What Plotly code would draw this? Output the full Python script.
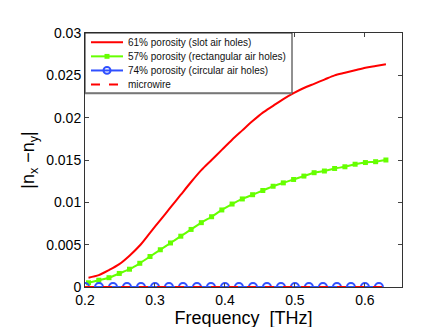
import plotly.graph_objects as go

freq = [0.205, 0.2197, 0.2343, 0.249, 0.2636, 0.2783, 0.2929, 0.3076, 0.3222, 0.3369,
        0.3516, 0.3662, 0.3809, 0.3955, 0.4102, 0.4248, 0.4395, 0.4541, 0.4688, 0.4834,
        0.4981, 0.5128, 0.5274, 0.5421, 0.5567, 0.5714, 0.586, 0.6007, 0.6153, 0.63]

slot_vals = [0.0011, 0.0014, 0.0020, 0.0027, 0.0037, 0.0049, 0.0064, 0.0079, 0.0094, 0.0109,
             0.0124, 0.0138, 0.0150, 0.0162, 0.0174, 0.0185, 0.0196, 0.0206, 0.0214, 0.0222,
             0.0229, 0.0235, 0.0240, 0.0245, 0.0250, 0.0253, 0.0256, 0.0259, 0.0261, 0.0263]

rect_vals = [0.0005, 0.0008, 0.0011, 0.0016, 0.0021, 0.0028, 0.0036, 0.0044, 0.0052, 0.0060,
             0.0068, 0.0076, 0.0083, 0.0091, 0.0098, 0.0104, 0.0109, 0.0114, 0.0119, 0.0123,
             0.0127, 0.0131, 0.0135, 0.0137, 0.0140, 0.0142, 0.0145, 0.0147, 0.0148, 0.0150]

circ_freq = [0.20, 0.22, 0.24, 0.26, 0.28, 0.30, 0.32, 0.34, 0.36, 0.38, 0.40,
             0.42, 0.44, 0.46, 0.48, 0.50, 0.52, 0.54, 0.56, 0.58, 0.60, 0.62]
circ_vals = [0.0] * len(circ_freq)

wire_freq = [0.20, 0.63]
wire_vals = [0.0, 0.0]

names = ["61% porosity (slot air holes)", "57% porosity (rectangular air holes)",
         "74% porosity (circular air holes)", "microwire"]

x_ticks = [0.2, 0.3, 0.4, 0.5, 0.6]
x_ticktext = ["0.2", "0.3", "0.4", "0.5", "0.6"]
y_ticks = [0, 0.005, 0.01, 0.015, 0.02, 0.025, 0.03]
y_ticktext = ["0", "0.005", "0.01", "0.015", "0.02", "0.025", "0.03"]

RED = "#ff0000"
GREEN = "#66ff00"
BLUE = "#3050ff"

W, H = 435, 327
ML, MR, MT, MB = 77, 41, 25, 41
PW, PH = W - ML - MR, H - MT - MB


def px(x):
    return (x - ML) / PW


def py(y):
    return 1 - (y - MT) / PH


fig = go.Figure()
fig.add_trace(go.Scatter(x=freq, y=slot_vals, mode="lines", name=names[0],
                         line=dict(color=RED, width=2, shape="spline", smoothing=0.8)))
fig.add_trace(go.Scatter(x=freq, y=rect_vals, mode="lines+markers", name=names[1],
                         line=dict(color=GREEN, width=2, shape="spline", smoothing=0.8),
                         marker=dict(symbol="square", size=5, color=GREEN)))
fig.add_trace(go.Scatter(x=circ_freq, y=circ_vals, mode="lines+markers", name=names[2],
                         line=dict(color=BLUE, width=2),
                         marker=dict(symbol="circle-open", size=8, color=BLUE,
                                     line=dict(width=2, color=BLUE))))
fig.add_trace(go.Scatter(x=wire_freq, y=wire_vals, mode="lines", name=names[3],
                         line=dict(color=RED, width=2, dash="dash")))

# Compact MATLAB-style legend
shapes = []
annotations = []
shapes.append(dict(type="rect", xref="paper", yref="paper",
                   x0=px(ML), x1=px(284), y0=py(87), y1=py(MT),
                   fillcolor="white", line=dict(color="#222", width=1), layer="above"))
shapes.append(dict(type="line", xref="paper", yref="paper",
                   x0=px(ML), x1=px(284), y0=py(87), y1=py(87),
                   line=dict(color="#777", width=2), layer="above"))
entry_y = [34.5, 49, 63.5, 78]
styles = [(RED, "solid"), (GREEN, "solid"), (BLUE, "solid"), (RED, "dash")]
for i, (nm, (col, dash), yy) in enumerate(zip(names, styles, entry_y)):
    shapes.append(dict(type="line", xref="paper", yref="paper",
                       x0=px(83), x1=px(115), y0=py(yy), y1=py(yy),
                       line=dict(color=col, width=2, dash=dash), layer="above"))
    annotations.append(dict(text=nm, xref="paper", yref="paper", x=px(118), y=py(yy),
                            xanchor="left", yanchor="middle", showarrow=False,
                            font=dict(size=10, color="#111")))
# legend markers
shapes.append(dict(type="rect", xref="paper", yref="paper",
                   x0=px(96.5), x1=px(101.5), y0=py(51.5), y1=py(46.5),
                   fillcolor=GREEN, line=dict(color=GREEN, width=0), layer="above"))
shapes.append(dict(type="circle", xref="paper", yref="paper",
                   x0=px(95.5), x1=px(102.5), y0=py(67), y1=py(60),
                   fillcolor="rgba(0,0,0,0)", line=dict(color=BLUE, width=2), layer="above"))

fig.update_layout(
    width=W, height=H,
    margin=dict(l=ML, r=MR, t=MT, b=MB),
    paper_bgcolor="white", plot_bgcolor="white",
    font=dict(family="Liberation Sans, Arial, sans-serif", color="black"),
    showlegend=False,
    shapes=shapes, annotations=annotations,
)
fig.update_xaxes(range=[0.2, 0.653], tickvals=x_ticks, ticktext=x_ticktext,
                 ticks="inside", ticklen=4, tickcolor="#444", showgrid=False, zeroline=False,
                 showline=True, linecolor="#333", linewidth=1, mirror="ticks",
                 tickfont=dict(size=14),
                 title=dict(text="Frequency\u00a0\u00a0[THz]", font=dict(size=18), standoff=3))
fig.update_yaxes(range=[0, 0.03], tickvals=y_ticks, ticktext=y_ticktext,
                 ticks="inside", ticklen=4, tickcolor="#444", showgrid=False, zeroline=False,
                 showline=True, linecolor="#333", linewidth=1, mirror="ticks",
                 tickfont=dict(size=14),
                 title=dict(text="|n<sub>x</sub> \u2212n<sub>y</sub>|", font=dict(size=18), standoff=6))

fig.write_html("out.html")
